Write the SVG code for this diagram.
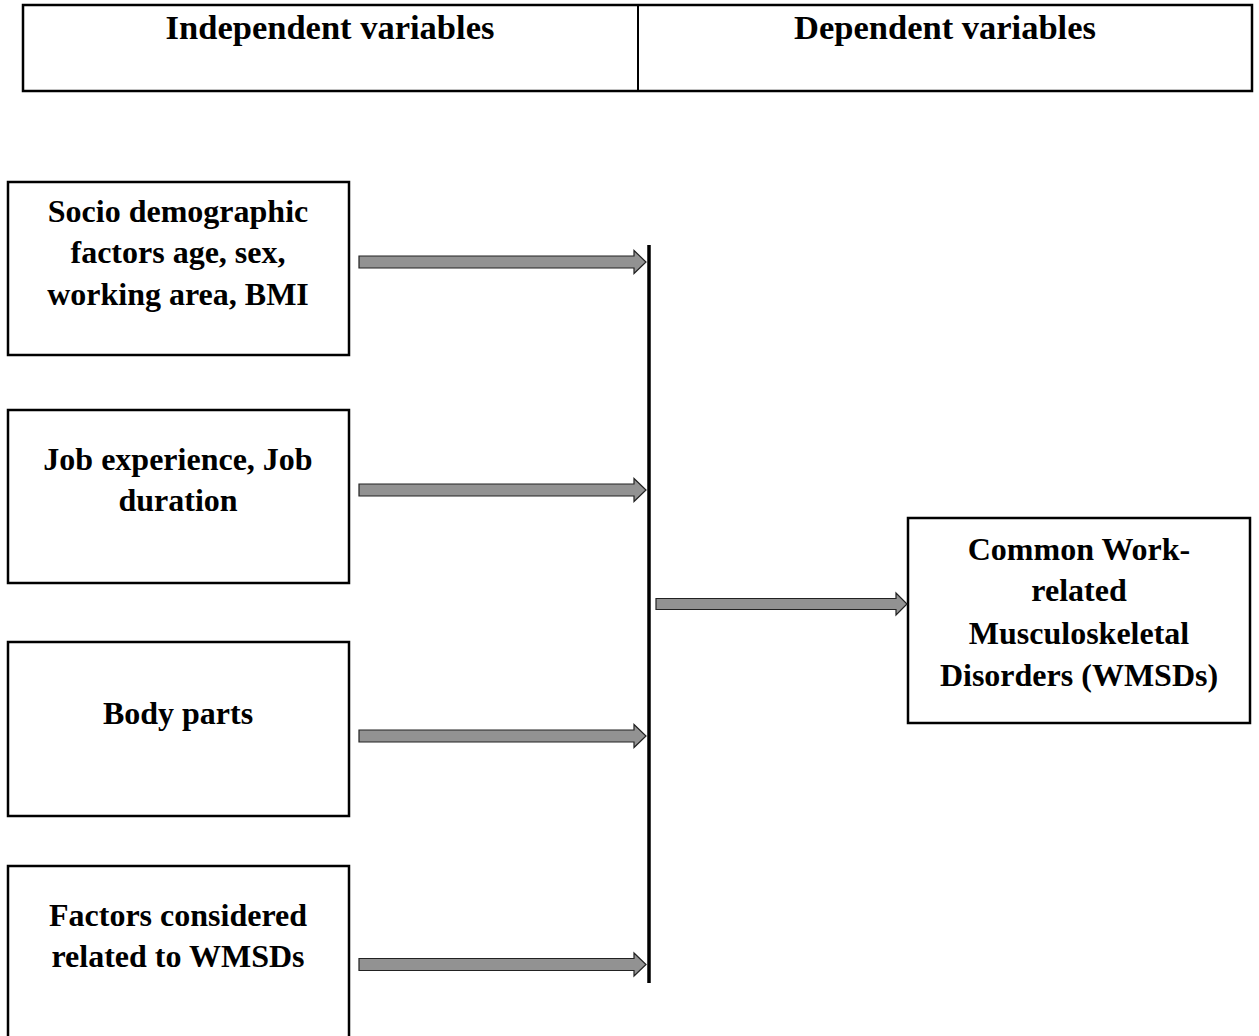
<svg xmlns="http://www.w3.org/2000/svg" width="1259" height="1036" viewBox="0 0 1259 1036">
<style>
.box{fill:#fff;stroke:#000;stroke-width:2.5}
.t{font-family:"Liberation Serif","Times New Roman",serif;font-weight:bold;font-size:32px;fill:#000;text-anchor:middle}
.h{font-family:"Liberation Serif","Times New Roman",serif;font-weight:bold;font-size:34.5px;fill:#000;text-anchor:middle}
.arr{fill:#929292;stroke:#222;stroke-width:1.2;stroke-linejoin:miter}
</style>
<g id="header">
<rect class="box" x="23" y="5" width="1229" height="86"/>
<line x1="638" y1="5" x2="638" y2="91" stroke="#000" stroke-width="2"/>
<text class="h" x="330" y="39">Independent variables</text>
<text class="h" x="945" y="39">Dependent variables</text>
</g>
<g id="node-socio">
<rect class="box" x="8" y="182" width="341" height="173"/>
<text class="t" x="178" y="222">Socio demographic</text>
<text class="t" x="178" y="263">factors age, sex,</text>
<text class="t" x="178" y="305">working area, BMI</text>
</g>
<g id="node-job">
<rect class="box" x="8" y="410" width="341" height="173"/>
<text class="t" x="178" y="470">Job experience, Job</text>
<text class="t" x="178" y="511">duration</text>
</g>
<g id="node-body">
<rect class="box" x="8" y="642" width="341" height="174"/>
<text class="t" x="178" y="724">Body parts</text>
</g>
<g id="node-factors">
<rect class="box" x="8" y="866" width="341" height="180"/>
<text class="t" x="178" y="926">Factors considered</text>
<text class="t" x="178" y="967">related to WMSDs</text>
</g>
<g id="node-wmsd">
<rect class="box" x="908" y="518" width="342" height="205"/>
<text class="t" x="1079" y="560">Common Work-</text>
<text class="t" x="1079" y="601">related</text>
<text class="t" x="1079" y="644">Musculoskeletal</text>
<text class="t" x="1079" y="686">Disorders (WMSDs)</text>
</g>
<g id="connectors">
<line x1="649" y1="245" x2="649" y2="983" stroke="#000" stroke-width="3.5"/>
<path class="arr" d="M359,256 H634 V250.5 L646,262 L634,273.5 V268 H359 Z"/>
<path class="arr" d="M359,484 H634 V478.5 L646,490 L634,501.5 V496 H359 Z"/>
<path class="arr" d="M359,730 H634 V724.5 L646,736 L634,747.5 V742 H359 Z"/>
<path class="arr" d="M359,958.5 H634 V953 L646,964.5 L634,976 V970.5 H359 Z"/>
<path class="arr" d="M656,598.5 H896 V593 L907,604 L896,615 V609.5 H656 Z"/>
</g>
</svg>
